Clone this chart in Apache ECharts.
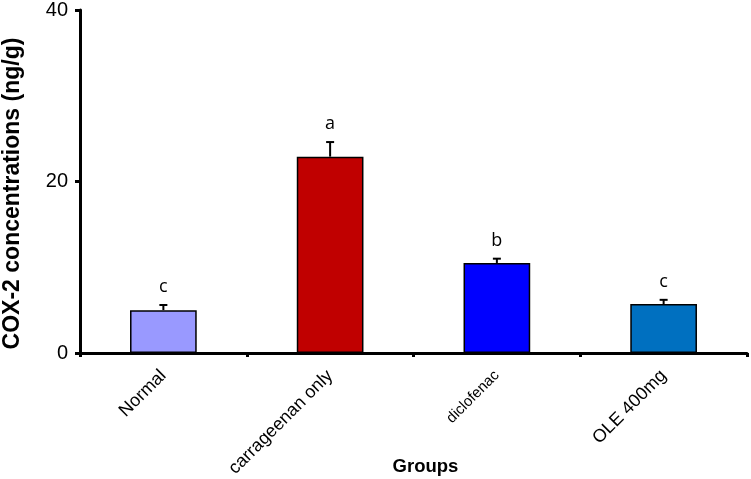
<!DOCTYPE html>
<html>
<head>
<meta charset="utf-8">
<script src="https://cdn.jsdelivr.net/npm/echarts@6/dist/echarts.min.js"></script>
<style>
  html, body { margin: 0; padding: 0; background: #fff; }
  #chart { width: 751px; height: 479px; }
</style>
</head>
<body>
<div id="chart"></div>
<script>
// values
const groups = ['Normal', 'carrageenan only', 'diclofenac', 'OLE 400mg']
const groupFontSizes = [18, 18, 15, 18]
const cox2 = [5.0, 22.9, 10.5, 5.7]
const cox2Err = [0.6, 1.7, 0.5, 0.5]
const letters = ['c', 'a', 'b', 'c']
const barColors = ['#9999FF', '#C00000', '#0000FF', '#0070C0']
const yTicks = [0, 20, 40]

const chart = echarts.init(document.getElementById('chart'), null, { renderer: 'canvas' })

const font = 'Liberation Sans, Arial, sans-serif'

chart.setOption({
  animation: false,
  grid: { left: 80, right: 4, top: 10, bottom: 126, outerBoundsMode: 'none', containLabel: false },
  xAxis: {
    type: 'category',
    data: groups.map((g, i) => ({
      value: g,
      // diclofenac sits a little lower in the original
      textStyle: i === 2 ? { fontSize: groupFontSizes[i], padding: [12, 0, 0, 0] } : { fontSize: groupFontSizes[i] }
    })),
    name: 'Groups',
    nameLocation: 'middle',
    nameGap: 104,
    nameMoveOverlap: false,
    nameTextStyle: { fontFamily: font, fontSize: 18.5, fontWeight: 'bold', color: '#000', padding: [0, 0, 0, 24] },
    axisLine: { lineStyle: { color: '#000', width: 3 } },
    axisTick: { show: true, length: 4, lineStyle: { color: '#000', width: 3 } },
    axisLabel: { rotate: 45, margin: 20, color: '#000', fontFamily: font }
  },
  yAxis: {
    type: 'value',
    min: yTicks[0],
    max: yTicks[yTicks.length - 1],
    interval: yTicks[1] - yTicks[0],
    name: 'COX-2 concentrations (ng/g)',
    nameLocation: 'middle',
    nameGap: 56,
    nameMoveOverlap: false,
    nameTextStyle: { fontFamily: font, fontSize: 23, fontWeight: 'bold', color: '#000', padding: [0, 24, 0, 0] },
    axisLine: { show: true, lineStyle: { color: '#000', width: 3 } },
    axisTick: { show: true, length: 5, lineStyle: { color: '#000', width: 3 } },
    axisLabel: { margin: 12, color: '#000', fontSize: 20, fontFamily: font },
    splitLine: { show: false }
  },
  series: [
    {
      type: 'bar',
      barWidth: '40%',
      data: cox2.map((v, i) => ({
        value: v,
        itemStyle: { color: barColors[i], borderColor: '#000', borderWidth: 1.5 }
      })),
      z: 2
    },
    {
      type: 'custom',
      data: cox2.map((v, i) => [i, v, v + cox2Err[i]]),
      z: 3,
      renderItem: function (params, api) {
        const base = api.coord([api.value(0), api.value(1)])
        const top = api.coord([api.value(0), api.value(2)])
        const x = base[0]
        const cap = 4
        return {
          type: 'group',
          children: [
            {
              type: 'line',
              shape: { x1: x, y1: base[1], x2: x, y2: top[1] },
              style: { stroke: '#000', lineWidth: 2 }
            },
            {
              type: 'line',
              shape: { x1: x - cap, y1: top[1], x2: x + cap, y2: top[1] },
              style: { stroke: '#000', lineWidth: 2 }
            },
            {
              type: 'text',
              x: x,
              y: top[1] - 9,
              style: {
                text: letters[params.dataIndex],
                fill: '#000',
                font: '18px "Open Sans", sans-serif',
                textAlign: 'center',
                textVerticalAlign: 'bottom'
              }
            }
          ]
        }
      }
    }
  ]
})
</script>
</body>
</html>
